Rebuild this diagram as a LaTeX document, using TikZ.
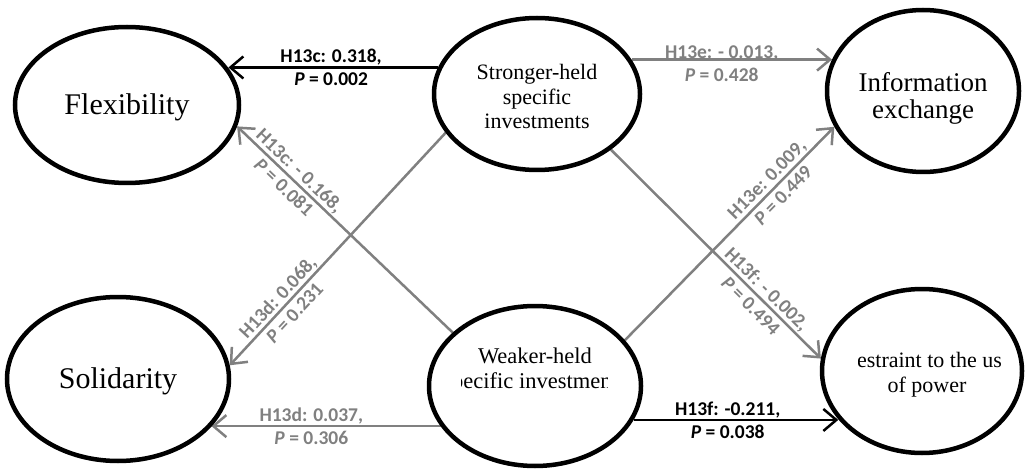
\documentclass[tikz,border=0pt]{standalone}
\usepackage{fontspec}
\setmainfont{Liberation Serif}
\newfontfamily\labelfont{Carlito}
\usetikzlibrary{shapes.geometric,arrows.meta,backgrounds}
\definecolor{pathgray}{RGB}{128,128,128}
\tikzset{
  construct/.style={ellipse, draw=black, line width=4.5pt, inner sep=0pt},
  bigtext/.style={font=\fontsize{30}{33}\selectfont, align=center, inner sep=0pt},
  smalltext/.style={font=\fontsize{22}{24.5}\selectfont, align=center, inner sep=0pt},
  effect/.style={line width=2.5pt, -{Straight Barb[length=13pt,width=22pt]}},
  strongeffect/.style={effect, draw=black},
  weakeffect/.style={effect, draw=pathgray},
  lbl/.style={font=\fontsize{19.5}{23}\selectfont\labelfont\bfseries, align=center,
              inner sep=0pt, sloped},
  graylbl/.style={lbl, text=pathgray},
}
\begin{document}
\begin{tikzpicture}[x=1pt, y=-1pt]
\useasboundingbox (0,0) rectangle (1027,470);

% constructs
\node[construct, minimum width=224pt, minimum height=156pt] (flex) at (127,105) {};
\node[construct, minimum width=192pt, minimum height=162pt] (info) at (923,91) {};
\node[construct, minimum width=206pt, minimum height=152pt] (strong) at (537,94) {};
\node[construct, minimum width=222pt, minimum height=164pt] (solid) at (118,379) {};
\node[construct, minimum width=212pt, minimum height=160pt] (weak) at (535,386) {};
\node[construct, minimum width=200pt, minimum height=164pt] (restr) at (922,371) {};

% their texts
\node[bigtext] (flextext) at ([yshift=-2pt]flex.center) {Flexibility};
\node[bigtext, font=\fontsize{27}{27}\selectfont] (infotext) at ([yshift=-7pt]info.center) {Information\\exchange};
\node[smalltext] (strongtext) at ([yshift=-2.5pt]strong.center) {Stronger-held\\specific\\investments};
\node[bigtext] (solidtext) at ([yshift=-2pt]solid.center) {Solidarity};

% text boxes that are cut off at their sides
\begin{scope}
  \clip (461,335) rectangle (607,405);
  \node[smalltext, font=\fontsize{22.5}{25}\selectfont] (weaktext) at (535,370.5) {Weaker-held\\specific investments};
\end{scope}
\begin{scope}
  \clip (858,335) rectangle (1000.5,405);
  \node[smalltext, font=\fontsize{22}{25}\selectfont] (restrtext) at (927,374.4) {Restraint to the use\\of power};
\end{scope}

% effects
\begin{scope}[on background layer]
\draw[strongeffect] (strong.165) -- (flex.20 |- strong.165)
  node[lbl, pos=0.51] {H13c: 0.318,\\\textit{P} = 0.002};
\draw[weakeffect] (strong.20) -- (info.161 |- strong.20)
  node[graylbl, pos=0.45, yshift=-4pt] {H13e: - 0.013,\\\textit{P} = 0.428};
\draw[weakeffect] (strong.203) -- (solid.7)
  node[graylbl, pos=0.74] {H13d: 0.068,\\\textit{P} = 0.231};
\draw[weakeffect] (strong.-37) -- (restr.173)
  node[graylbl, pos=0.706] {H13f: - 0.002,\\\textit{P} = 0.494};
\draw[weakeffect] (weak.147) -- (flex.-11)
  node[graylbl, pos=0.745] {H13c: - 0.168,\\\textit{P} = 0.081};
\draw[weakeffect] (weak.27) -- (info.202)
  node[graylbl, pos=0.716] {H13e: 0.009,\\\textit{P} = 0.449};
\draw[weakeffect] (weak.203) -- (solid.-27 |- weak.203)
  node[graylbl, pos=0.564] {H13d: 0.037,\\\textit{P} = 0.306};
\draw[strongeffect] (weak.-19) -- (restr.210 |- weak.-19)
  node[lbl, pos=0.46] {H13f: -0.211,\\\textit{P} = 0.038};
\end{scope}
\end{tikzpicture}
\end{document}
